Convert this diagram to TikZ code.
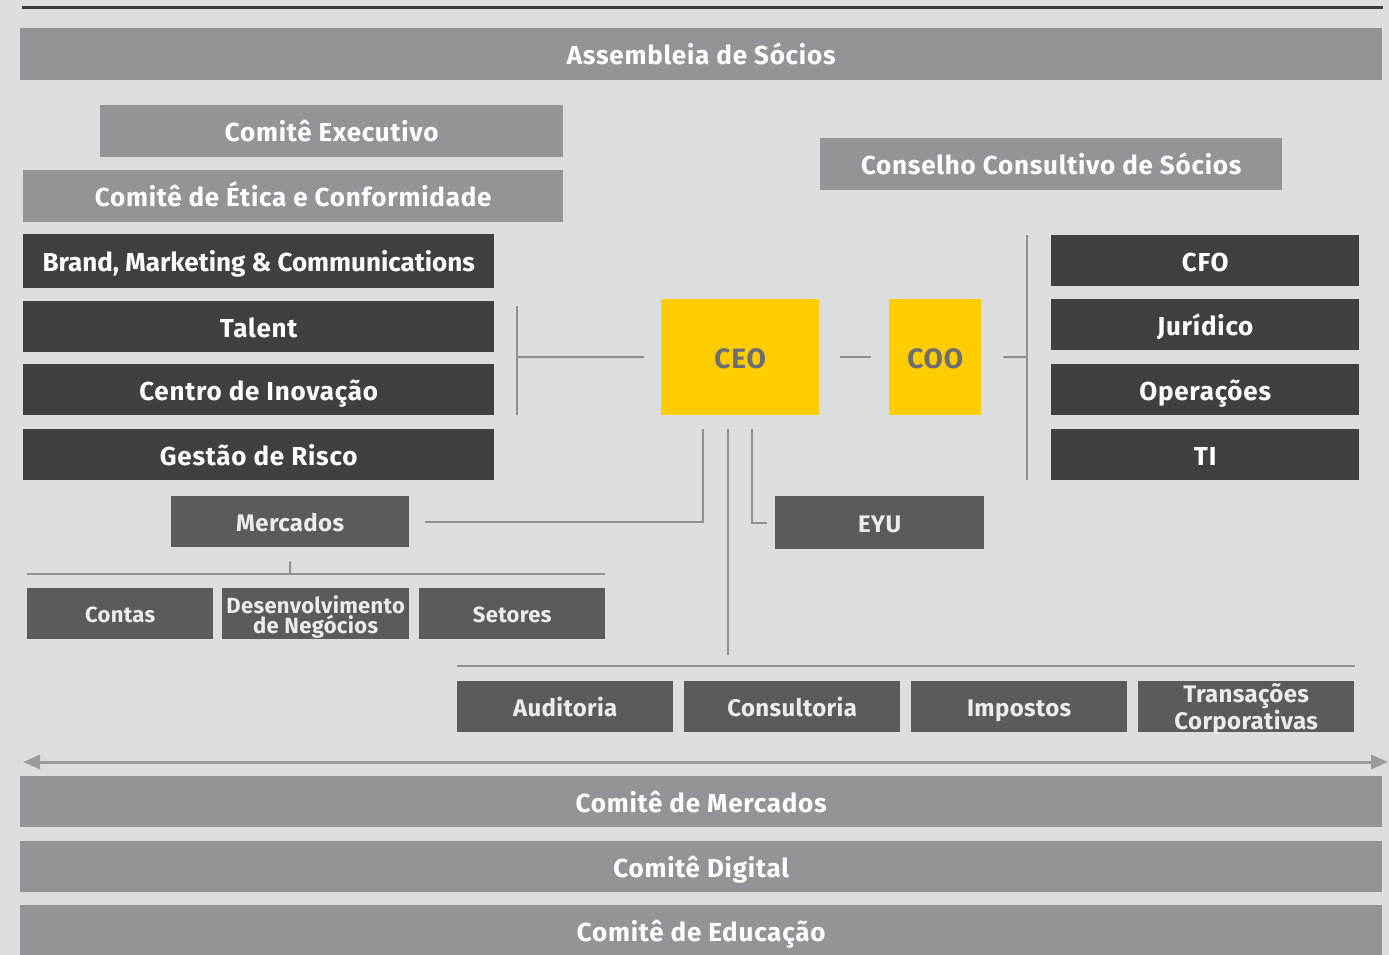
\documentclass[tikz,border=0pt]{standalone}
\usepackage{fontspec}
\setmainfont{Fira Sans}
\newfontfamily\spacedwide{Fira Sans}[LetterSpace=3]
\newfontfamily\spacedmid{Fira Sans}[LetterSpace=1.5]
\usetikzlibrary{arrows.meta}
\definecolor{pagebg}{HTML}{DCDDDF}
\definecolor{barfill}{HTML}{939498}
\definecolor{darkfill}{HTML}{404042}
\definecolor{midfill}{HTML}{5A5B5D}
\definecolor{eyyellow}{HTML}{FFCC00}
\definecolor{ceotext}{HTML}{6D6E71}
\definecolor{linecol}{HTML}{8E8F92}
\definecolor{arrowcol}{HTML}{9A9B9E}
\definecolor{topline}{HTML}{3D3D3F}
\tikzset{
  box/.style={anchor=north west, inner sep=0pt, minimum height=52pt, align=center},
  lightbar/.style={box, fill=barfill, text=white, text height=21pt, text depth=0pt,
    font=\spacedwide\fontsize{26}{28}\selectfont\bfseries},
  darkbox/.style={box, fill=darkfill, text=white, text height=21pt, text depth=0pt,
    font=\spacedwide\fontsize{26}{28}\selectfont\bfseries},
  midbase/.style={box, fill=midfill, text=white!92!black, font=\spacedmid\fontsize{24}{23}\selectfont\bfseries},
  midbox/.style={midbase, text height=19.5pt, text depth=0pt},
  smallbase/.style={box, fill=midfill, text=white!92!black, font=\spacedmid\fontsize{22}{20}\selectfont\bfseries},
  smallbox/.style={smallbase, text height=17.5pt, text depth=0pt},
  ybox/.style={box, fill=eyyellow, text=ceotext, minimum height=116pt, text height=22.5pt, text depth=0pt,
    font=\spacedwide\fontsize{28}{30}\selectfont\bfseries},
  conn/.style={draw=linecol, line width=2pt},
}
\begin{document}
\begin{tikzpicture}[x=1pt,y=-1pt]
\fill[pagebg] (0,0) rectangle (1389,955);
\useasboundingbox (0,0) rectangle (1389,955);

% top rule
\coordinate (ruleL) at (22,8);
\coordinate (ruleR) at (1383,8);
\draw[topline, line width=3pt] (ruleL) -- (ruleR);

% partner assembly and committees
\node[lightbar, minimum width=1362pt] (assembleia) at (20,28) {Assembleia de Sócios};
\node[lightbar, minimum width=463pt] (executivo) at (100,105) {Comitê Executivo};
\node[lightbar, minimum width=540pt] (etica) at (23,170) {Comitê de Ética e Conformidade};
\node[lightbar, minimum width=462pt] (conselho) at (820,138) {Conselho Consultivo de Sócios};

% left functions
\node[darkbox, minimum width=471pt, minimum height=54pt, font=\fontsize{26}{28}\selectfont\bfseries] (brand) at (23,234) {Brand, Marketing \& Communications};
\node[darkbox, minimum width=471pt, minimum height=51pt] (talent) at (23,301) {Talent};
\node[darkbox, minimum width=471pt, minimum height=51pt] (inovacao) at (23,364) {Centro de Inovação};
\node[darkbox, minimum width=471pt, minimum height=51pt] (risco) at (23,429) {Gestão de Risco};

% leadership
\node[ybox, minimum width=158pt] (ceo) at (661,299) {CEO};
\node[ybox, minimum width=92pt] (coo) at (889,299) {COO};

% right functions
\node[darkbox, minimum width=308pt, minimum height=51pt] (cfo) at (1051,235) {CFO};
\node[darkbox, minimum width=308pt, minimum height=51pt] (juridico) at (1051,299) {Jurídico};
\node[darkbox, minimum width=308pt, minimum height=51pt] (operacoes) at (1051,364) {Operações};
\node[darkbox, minimum width=308pt, minimum height=51pt] (ti) at (1051,429) {TI};

% markets
\node[midbox, minimum width=238pt, minimum height=51pt] (mercados) at (171,496) {Mercados};
\node[smallbox, minimum width=186pt, minimum height=51pt] (contas) at (27,588) {Contas};
\node[smallbase, minimum width=187pt, minimum height=51pt] (desenv) at (222,588)
  {\parbox{185pt}{\centering\vspace*{6pt}Desenvolvimento\\de Negócios}};
\node[smallbox, minimum width=186pt, minimum height=51pt] (setores) at (419,588) {Setores};

\node[midbox, minimum width=209pt, minimum height=53pt] (eyu) at (775,496) {EYU};

% service lines
\node[midbox, minimum width=216pt, minimum height=51pt] (auditoria) at (457,681) {Auditoria};
\node[midbox, minimum width=216pt, minimum height=51pt] (consultoria) at (684,681) {Consultoria};
\node[midbox, minimum width=216pt, minimum height=51pt] (impostos) at (911,681) {Impostos};
\node[midbase, minimum width=216pt, minimum height=51pt, text height=20pt, text depth=2pt] (transacoes) at (1138,681)
  {\parbox{214pt}{\centering Transações\\Corporativas}};

% bottom committees
\node[lightbar, minimum width=1362pt, minimum height=51pt] (cmercados) at (20,776) {Comitê de Mercados};
\node[lightbar, minimum width=1362pt, minimum height=51pt] (cdigital) at (20,841) {Comitê Digital};
\node[lightbar, minimum width=1362pt, minimum height=51pt] (ceducacao) at (20,905) {Comitê de Educação};

% connectors: left functions to CEO
\coordinate (lbTop) at (517,306);
\coordinate (lbBot) at (517,415);
\coordinate (lbMid) at (517,357);
\draw[conn] (lbTop) -- (lbBot);
\draw[conn, shorten >=17pt] (lbMid) -- (ceo.west);

% CEO to COO
\draw[conn, shorten <=21pt, shorten >=18pt] (ceo.east) -- (coo.west);

% COO to right functions
\coordinate (rbTop) at (1027,235);
\coordinate (rbBot) at (1027,480);
\coordinate (rbMid) at (1027,357);
\draw[conn] (rbTop) -- (rbBot);
\draw[conn, shorten <=22pt] (coo.east) -- (rbMid);

% CEO to markets, EYU and service lines
\coordinate (ceoL) at (703,429);
\coordinate (ceoM) at (728,429);
\coordinate (ceoR) at (752,429);
\coordinate (svcTop) at (728,655);
\draw[conn, shorten <=16pt] (mercados.east) -| (ceoL);
\draw[conn, shorten >=8pt] (ceoR) |- (eyu.west);
\draw[conn] (ceoM) -- (svcTop);

% service line rule
\coordinate (svcL) at (457,666);
\coordinate (svcR) at (1355,666);
\draw[conn] (svcL) -- (svcR);

% market sub-units rule
\coordinate (mktL) at (27,574);
\coordinate (mktR) at (605,574);
\coordinate (mktTick) at (290,574);
\draw[conn] (mktL) -- (mktR);
\draw[conn, shorten <=14pt] (mercados.south) -- (mktTick);

% double arrow above the bottom committees
\coordinate (arrL) at (23,762);
\coordinate (arrR) at (1388,762);
\draw[draw=arrowcol, line width=3pt, {Triangle[length=17pt,width=14pt,fill=arrowcol]}-{Triangle[length=17pt,width=14pt,fill=arrowcol]}] (arrL) -- (arrR);
\end{tikzpicture}
\end{document}
